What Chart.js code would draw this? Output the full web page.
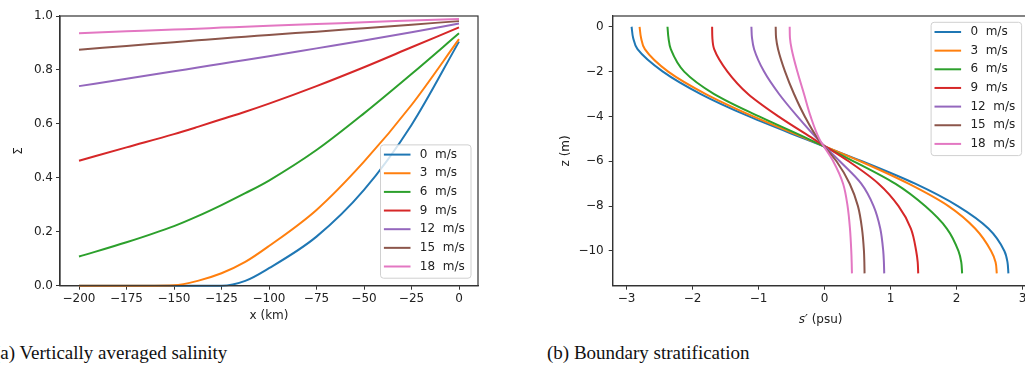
<!DOCTYPE html>
<html>
<head>
<meta charset="utf-8">
<script src="https://cdn.jsdelivr.net/npm/chart.js@4.4.0/dist/chart.umd.min.js"></script>
<style>
  html, body { margin: 0; padding: 0; background: #fff; }
  body { width: 1025px; height: 365px; overflow: hidden; position: relative; }
  .panel { position: absolute; top: 0; width: 500px; height: 335px; }
  #panelA { left: 0; }
  #panelB { left: 540px; }
  .caption { position: absolute; top: 343px; font-family: "Liberation Serif", serif; font-size: 19px; line-height: 19px; white-space: nowrap; color: #111; }
</style>
</head>
<body>
<div class="panel" id="panelA"><canvas id="salinityChart"></canvas></div>
<div class="panel" id="panelB"><canvas id="stratChart"></canvas></div>
<div class="caption" style="left:-6px">(a) Vertically averaged salinity</div>
<div class="caption" style="left:547px">(b) Boundary stratification</div>
<script>
const windSpeeds = [0, 3, 6, 9, 12, 15, 18];
const lineColors = ["#1f77b4", "#ff7f0e", "#2ca02c", "#d62728", "#9467bd", "#8c564b", "#e377c2"];

// (a) vertically averaged salinity along the estuary
const distanceKm = [-200, -175, -150, -137.5, -125, -112.5, -100, -75, -50, -25, 0];
const sigma0 = [0, 0, 0, 0, 0, 0.018, 0.065, 0.182, 0.355, 0.596, 0.905];
const sigma3 = [0, 0, 0.002, 0.018, 0.046, 0.088, 0.147, 0.281, 0.460, 0.670, 0.914];
const sigma6 = [0.108, 0.161, 0.221, 0.258, 0.299, 0.343, 0.390, 0.503, 0.639, 0.785, 0.936];
const sigma9 = [0.463, 0.513, 0.562, 0.589, 0.617, 0.645, 0.675, 0.740, 0.810, 0.884, 0.958];
const sigma12 = [0.740, 0.767, 0.795, 0.809, 0.823, 0.837, 0.851, 0.880, 0.909, 0.940, 0.972];
const sigma15 = [0.875, 0.889, 0.903, 0.910, 0.917, 0.923, 0.930, 0.942, 0.955, 0.968, 0.981];
const sigma18 = [0.936, 0.943, 0.950, 0.953, 0.957, 0.960, 0.964, 0.970, 0.977, 0.983, 0.989];
const distanceTicks = [-200, -175, -150, -125, -100, -75, -50, -25, 0];
const sigmaTicks = [0, 0.2, 0.4, 0.6, 0.8, 1.0];

// (b) salinity anomaly profile at the boundary
const depthM = [0, -0.5, -1, -2, -3, -4, -5, -6, -7, -8, -9, -10, -10.5, -11];
const strat0 = [-2.924, -2.90, -2.834, -2.45, -1.876, -1.144, -0.30, 0.566, 1.372, 2.018, 2.481, 2.723, 2.77, 2.784];
const strat3 = [-2.803, -2.78, -2.723, -2.37, -1.80, -1.08, -0.27, 0.540, 1.271, 1.876, 2.280, 2.522, 2.59, 2.608];
const strat6 = [-2.380, -2.365, -2.33, -2.127, -1.673, -0.993, -0.25, 0.439, 1.07, 1.523, 1.851, 2.027, 2.07, 2.083];
const strat9 = [-1.704, -1.70, -1.673, -1.472, -1.16, -0.70, -0.17, 0.363, 0.817, 1.120, 1.307, 1.387, 1.41, 1.418];
const strat12 = [-1.109, -1.10, -1.068, -0.917, -0.690, -0.413, -0.11, 0.23, 0.555, 0.742, 0.843, 0.888, 0.898, 0.903];
const strat15 = [-0.741, -0.735, -0.705, -0.599, -0.463, -0.30, -0.10, 0.18, 0.38, 0.505, 0.566, 0.596, 0.602, 0.605];
const strat18 = [-0.529, -0.525, -0.499, -0.413, -0.312, -0.212, -0.08, 0.13, 0.28, 0.348, 0.384, 0.404, 0.41, 0.414];
const stratTicks = [-3, -2, -1, 0, 1, 2, 3];
const depthTicks = [0, -2, -4, -6, -8, -10];

const sigmaSeries = [sigma0, sigma3, sigma6, sigma9, sigma12, sigma15, sigma18];
const stratSeries = [strat0, strat3, strat6, strat9, strat12, strat15, strat18];

const textColor = "#222";
const axisColor = "#333";
Chart.defaults.font.family = "'DejaVu Sans', sans-serif";
Chart.defaults.font.size = 12;
Chart.defaults.color = textColor;

const minus = (text) => String(text).replace("-", "\u2212");

// box around the plotting area (top and right spines included)
const axesFrame = {
  id: "axesFrame",
  afterDatasetsDraw(chart) {
    const { ctx, chartArea } = chart;
    ctx.save();
    ctx.strokeStyle = axisColor;
    ctx.lineWidth = 1.2;
    ctx.strokeRect(chartArea.left, chartArea.top, chartArea.right - chartArea.left, chartArea.bottom - chartArea.top);
    ctx.restore();
  },
};

// x label with an italic symbol followed by upright units
const mathTitle = {
  id: "mathTitle",
  afterDraw(chart, args, opts) {
    if (!opts.symbol) return;
    const { ctx, chartArea } = chart;
    const italic = "oblique 12px 'DejaVu Sans'";
    const upright = "12px 'DejaVu Sans'";
    ctx.save();
    ctx.font = italic;
    const w1 = ctx.measureText(opts.symbol).width;
    ctx.font = upright;
    const w2 = ctx.measureText(opts.units).width;
    let x = (chartArea.left + chartArea.right) / 2 - (w1 + w2) / 2;
    const y = chart.scales.x.bottom - opts.offset;
    ctx.fillStyle = textColor;
    ctx.textBaseline = "middle";
    ctx.font = italic;
    ctx.fillText(opts.symbol, x, y);
    ctx.font = upright;
    ctx.fillText(opts.units, x + w1, y);
    ctx.restore();
  },
};

// matplotlib-like framed legend tucked into a corner of the axes
const boxLegend = {
  id: "boxLegend",
  afterDraw(chart, args, opts) {
    const { ctx, chartArea } = chart;
    const w = 90.5;
    const h = 133.3;
    const x = chartArea.right - 7 - w;
    const y = opts.corner === "lower" ? chartArea.bottom - 7.5 - h : chartArea.top + 6.3;
    ctx.save();
    ctx.beginPath();
    ctx.roundRect(x, y, w, h, 3);
    ctx.fillStyle = "rgba(255,255,255,0.8)";
    ctx.fill();
    ctx.strokeStyle = "#d0d0d0";
    ctx.lineWidth = 1;
    ctx.stroke();
    ctx.font = "12px 'DejaVu Sans'";
    ctx.textBaseline = "middle";
    chart.data.datasets.forEach((ds, i) => {
      const cy = y + 9.7 + i * 18.65;
      ctx.strokeStyle = ds.borderColor;
      ctx.lineWidth = 2;
      ctx.beginPath();
      ctx.moveTo(x + 3.4, cy);
      ctx.lineTo(x + 30, cy);
      ctx.stroke();
      ctx.fillStyle = textColor;
      ctx.fillText(ds.label, x + 39.3, cy);
    });
    ctx.restore();
  },
};

function linearAxis({ min, max, ticks, format, title, titlePadding, size, horizontal, labelPad }) {
  return {
    type: "linear",
    min,
    max,
    afterBuildTicks: (scale) => {
      scale.ticks = ticks.map((value) => ({ value }));
    },
    afterFit: (scale) => {
      if (horizontal) scale.height = size;
      else scale.width = size;
    },
    ticks: { color: textColor, padding: labelPad, maxRotation: 0, autoSkip: false, callback: format },
    grid: { drawOnChartArea: false, drawTicks: true, tickLength: 4, color: axisColor, tickWidth: 1 },
    border: { display: true, color: axisColor, width: 1.2 },
    title: { display: !!title, text: title, color: textColor, padding: titlePadding, font: { size: 12 } },
  };
}

function buildDatasets(seriesList, toPoint) {
  return windSpeeds.map((speed, i) => ({
    label: `${speed}  m/s`,
    data: seriesList[i].map(toPoint),
    borderColor: lineColors[i],
    backgroundColor: lineColors[i],
    borderWidth: 2,
    pointRadius: 0,
    cubicInterpolationMode: "monotone",
    clip: false,
    order: windSpeeds.length - i,
  }));
}

new Chart(document.getElementById("salinityChart"), {
  type: "line",
  data: {
    datasets: buildDatasets(sigmaSeries, (value, j) => ({ x: distanceKm[j], y: value })),
  },
  options: {
    responsive: true,
    maintainAspectRatio: false,
    animation: false,
    layout: { padding: { left: 0, top: 16, right: 22, bottom: 0 } },
    plugins: { legend: { display: false }, tooltip: { enabled: false }, boxLegend: { corner: "lower" } },
    scales: {
      x: linearAxis({
        min: -210, max: 10, ticks: distanceTicks, format: (v) => minus(v),
        title: "x (km)", titlePadding: { top: 0, bottom: 11.8 }, size: 49.3, horizontal: true, labelPad: 2,
      }),
      y: linearAxis({
        min: 0, max: 1, ticks: sigmaTicks, format: (v) => v.toFixed(1),
        title: "\u03A3", titlePadding: { top: 11.5, bottom: 0 }, size: 60, horizontal: false, labelPad: 3,
      }),
    },
  },
  plugins: [axesFrame, boxLegend],
});

new Chart(document.getElementById("stratChart"), {
  type: "line",
  data: {
    datasets: buildDatasets(stratSeries, (value, j) => ({ x: value, y: depthM[j] })),
  },
  options: {
    indexAxis: "y",
    responsive: true,
    maintainAspectRatio: false,
    animation: false,
    layout: { padding: { left: 0, top: 16, right: 11.4, bottom: 0 } },
    plugins: {
      legend: { display: false },
      tooltip: { enabled: false },
      boxLegend: { corner: "upper" },
      mathTitle: { symbol: "s\u2032", units: " (psu)", offset: 15 },
    },
    scales: {
      x: linearAxis({
        min: -3.21, max: 3.09, ticks: stratTicks, format: (v) => minus(v),
        title: "", titlePadding: 0, size: 49.3, horizontal: true, labelPad: 2,
      }),
      y: linearAxis({
        min: -11.55, max: 0.48, ticks: depthTicks, format: (v) => minus(v),
        title: "z (m)", titlePadding: { top: 18.8, bottom: 0 }, size: 72.7, horizontal: false, labelPad: 5,
      }),
    },
  },
  plugins: [axesFrame, mathTitle, boxLegend],
});
</script>
</body>
</html>
